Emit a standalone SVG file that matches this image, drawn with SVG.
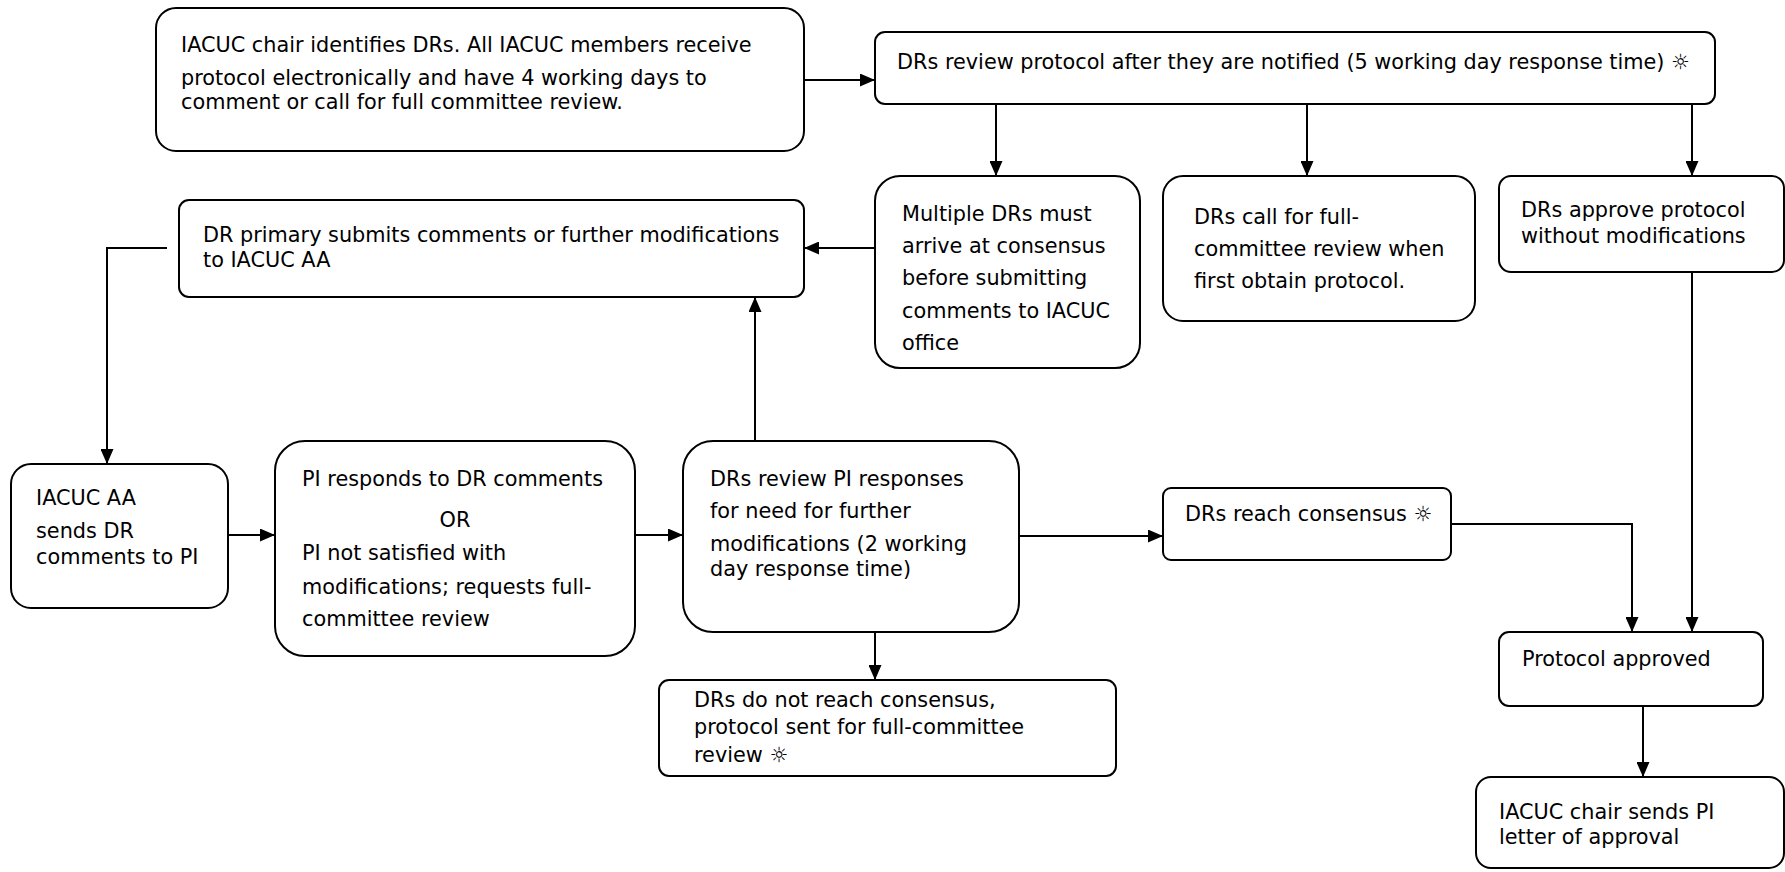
<svg xmlns="http://www.w3.org/2000/svg" width="1785" height="872" viewBox="0 0 1785 872">
<style>
.box{fill:#fff;stroke:#000;stroke-width:2}
.t{font-family:"DejaVu Sans",Verdana,sans-serif;font-size:20.8px;fill:#000}
.c{fill:none;stroke:#000;stroke-width:2}
</style>
<defs>
<marker id="ah" viewBox="0 0 15 13" markerWidth="15" markerHeight="13" refX="15" refY="6.5" orient="auto" markerUnits="userSpaceOnUse">
<path d="M0,0 L15,6.5 L0,13 z" fill="#000"/>
</marker>
</defs>
<rect width="1785" height="872" fill="#fff"/>
<g id="connectors">
<path class="c" d="M804,80 H875" marker-end="url(#ah)"/>
<path class="c" d="M996,105 V176" marker-end="url(#ah)"/>
<path class="c" d="M1307,105 V176" marker-end="url(#ah)"/>
<path class="c" d="M1692,105 V176" marker-end="url(#ah)"/>
<path class="c" d="M875,248 H804" marker-end="url(#ah)"/>
<path class="c" d="M167,248 H107 V464" marker-end="url(#ah)"/>
<path class="c" d="M228,535 H275" marker-end="url(#ah)"/>
<path class="c" d="M635,535 H683" marker-end="url(#ah)"/>
<path class="c" d="M755,441 V297" marker-end="url(#ah)"/>
<path class="c" d="M875,632 V680" marker-end="url(#ah)"/>
<path class="c" d="M1019,536 H1163" marker-end="url(#ah)"/>
<path class="c" d="M1451,524 H1632 V632" marker-end="url(#ah)"/>
<path class="c" d="M1692,272 V632" marker-end="url(#ah)"/>
<path class="c" d="M1643,706 V777" marker-end="url(#ah)"/>
</g>
<g id="n1">
<rect class="box" x="156" y="8" width="648" height="143" rx="20"/>
<text class="t" x="181" y="52">IACUC chair identifies DRs. All IACUC members receive</text>
<text class="t" x="181" y="85">protocol electronically and have 4 working days to</text>
<text class="t" x="181" y="109">comment or call for full committee review.</text>
</g>
<g id="n2">
<rect class="box" x="875" y="32" width="840" height="72" rx="10"/>
<text class="t" x="897" y="69">DRs review protocol after they are notified (5 working day response time) ☼</text>
</g>
<g id="n3">
<rect class="box" x="875" y="176" width="265" height="192" rx="25"/>
<text class="t" x="902" y="221">Multiple DRs must</text>
<text class="t" x="902" y="253">arrive at consensus</text>
<text class="t" x="902" y="285">before submitting</text>
<text class="t" x="902" y="318">comments to IACUC</text>
<text class="t" x="902" y="350">office</text>
</g>
<g id="n4">
<rect class="box" x="1163" y="176" width="312" height="145" rx="20"/>
<text class="t" x="1194" y="224">DRs call for full-</text>
<text class="t" x="1194" y="256">committee review when</text>
<text class="t" x="1194" y="288">first obtain protocol.</text>
</g>
<g id="n5">
<rect class="box" x="1499" y="176" width="285" height="96" rx="12"/>
<text class="t" x="1521" y="217">DRs approve protocol</text>
<text class="t" x="1521" y="243">without modifications</text>
</g>
<g id="n6">
<rect class="box" x="179" y="200" width="625" height="97" rx="10"/>
<text class="t" x="203" y="242">DR primary submits comments or further modifications</text>
<text class="t" x="203" y="267">to IACUC AA</text>
</g>
<g id="n7">
<rect class="box" x="11" y="464" width="217" height="144" rx="20"/>
<text class="t" x="36" y="505">IACUC AA</text>
<text class="t" x="36" y="538">sends DR</text>
<text class="t" x="36" y="564">comments to PI</text>
</g>
<g id="n8">
<rect class="box" x="275" y="441" width="360" height="215" rx="30"/>
<text class="t" x="302" y="486">PI responds to DR comments</text>
<text class="t" x="455" y="527" text-anchor="middle">OR</text>
<text class="t" x="302" y="560">PI not satisfied with</text>
<text class="t" x="302" y="594">modifications; requests full-</text>
<text class="t" x="302" y="626">committee review</text>
</g>
<g id="n9">
<rect class="box" x="683" y="441" width="336" height="191" rx="30"/>
<text class="t" x="710" y="486">DRs review PI responses</text>
<text class="t" x="710" y="518">for need for further</text>
<text class="t" x="710" y="551">modifications (2 working</text>
<text class="t" x="710" y="576">day response time)</text>
</g>
<g id="n10">
<rect class="box" x="659" y="680" width="457" height="96" rx="10"/>
<text class="t" x="694" y="707">DRs do not reach consensus,</text>
<text class="t" x="694" y="734">protocol sent for full-committee</text>
<text class="t" x="694" y="762">review ☼</text>
</g>
<g id="n11">
<rect class="box" x="1163" y="488" width="288" height="72" rx="8"/>
<text class="t" x="1185" y="521">DRs reach consensus ☼</text>
</g>
<g id="n12">
<rect class="box" x="1499" y="632" width="264" height="74" rx="10"/>
<text class="t" x="1522" y="666">Protocol approved</text>
</g>
<g id="n13">
<rect class="box" x="1476" y="777" width="308" height="91" rx="15"/>
<text class="t" x="1499" y="819">IACUC chair sends PI</text>
<text class="t" x="1499" y="844">letter of approval</text>
</g>
</svg>
